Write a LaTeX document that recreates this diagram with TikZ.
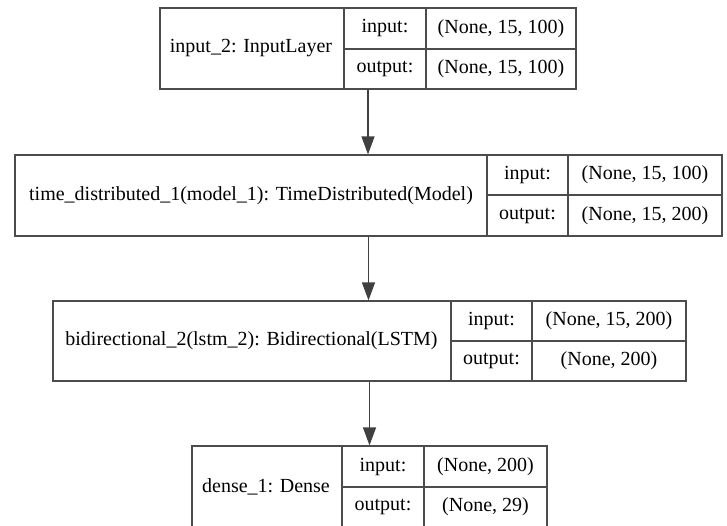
\documentclass[tikz,border=0pt]{standalone}
\usepackage{fontspec}
\setmainfont{Liberation Serif}
\usepackage{tikz}
\usetikzlibrary{arrows.meta}

\begin{document}
\begin{tikzpicture}[
            x=1pt, y=-1pt,
            box/.style={draw=black!70, line width=1.2pt, inner sep=0pt},
            sep/.style={draw=black!70, line width=1.2pt},
            lbl/.style={font=\fontsize{20}{20}\selectfont, inner sep=0pt},
            flow/.style={draw=black!75, line width=1.2pt, -{Triangle[length=18pt, width=13pt]}}
        ]

            \useasboundingbox (0,0) rectangle (727,525);
            \clip (0,0) rectangle (727,525);

            % input_2
            \node[box, minimum width=416pt, minimum height=81pt] (input) at (368,48.5) {};
            \draw[sep] (344,8) -- (344,89);
            \draw[sep] (426,8) -- (426,89);
            \draw[sep] (344,49) -- (576,49);
            \node[lbl] (inputname) at (251,48.5) {input\_2: InputLayer};
            \node[lbl] (inputin) at (385,28.5) {input:};
            \node[lbl] (inputout) at (385,69) {output:};
            \node[lbl] (inputinshape) at (501,28.5) {(None, 15, 100)};
            \node[lbl] (inputoutshape) at (501,69) {(None, 15, 100)};

            % time_distributed_1
            \node[box, minimum width=707pt, minimum height=81pt] (timedist) at (368.5,195.5) {};
            \draw[sep] (487,155) -- (487,236);
            \draw[sep] (568,155) -- (568,236);
            \draw[sep] (487,195) -- (722,195);
            \node[lbl] (timedistname) at (251,195.5) {time\_distributed\_1(model\_1): TimeDistributed(Model)};
            \node[lbl] (timedistin) at (527.5,175) {input:};
            \node[lbl] (timedistout) at (527.5,215.5) {output:};
            \node[lbl] (timedistinshape) at (645,175) {(None, 15, 100)};
            \node[lbl] (timedistoutshape) at (645,215.5) {(None, 15, 200)};

            % bidirectional_2
            \node[box, minimum width=633pt, minimum height=80pt] (bidir) at (369.5,341) {};
            \draw[sep] (451,301) -- (451,381);
            \draw[sep] (532,301) -- (532,381);
            \draw[sep] (451,341) -- (686,341);
            \node[lbl] (bidirname) at (251.5,341) {bidirectional\_2(lstm\_2): Bidirectional(LSTM)};
            \node[lbl] (bidirin) at (491.5,321) {input:};
            \node[lbl] (bidirout) at (491.5,361) {output:};
            \node[lbl] (bidirinshape) at (609,321) {(None, 15, 200)};
            \node[lbl] (bidiroutshape) at (609,361) {(None, 200)};

            % dense_1
            \node[box, minimum width=355pt, minimum height=81pt] (dense) at (369.5,486.5) {};
            \draw[sep] (342,446) -- (342,527);
            \draw[sep] (424,446) -- (424,527);
            \draw[sep] (342,487) -- (547,487);
            \node[lbl] (densename) at (266,486.5) {dense\_1: Dense};
            \node[lbl] (densein) at (383,466.5) {input:};
            \node[lbl] (denseout) at (383,507) {output:};
            \node[lbl] (denseinshape) at (485.5,466.5) {(None, 200)};
            \node[lbl] (denseoutshape) at (485.5,507) {(None, 29)};

            \draw[flow] (input.south) -- (input.south |- timedist.north);
            \draw[flow] (timedist.south) -- (timedist.south |- bidir.north);
            \draw[flow] (bidir.south) -- (bidir.south |- dense.north);
        \end{tikzpicture}
\end{document}
